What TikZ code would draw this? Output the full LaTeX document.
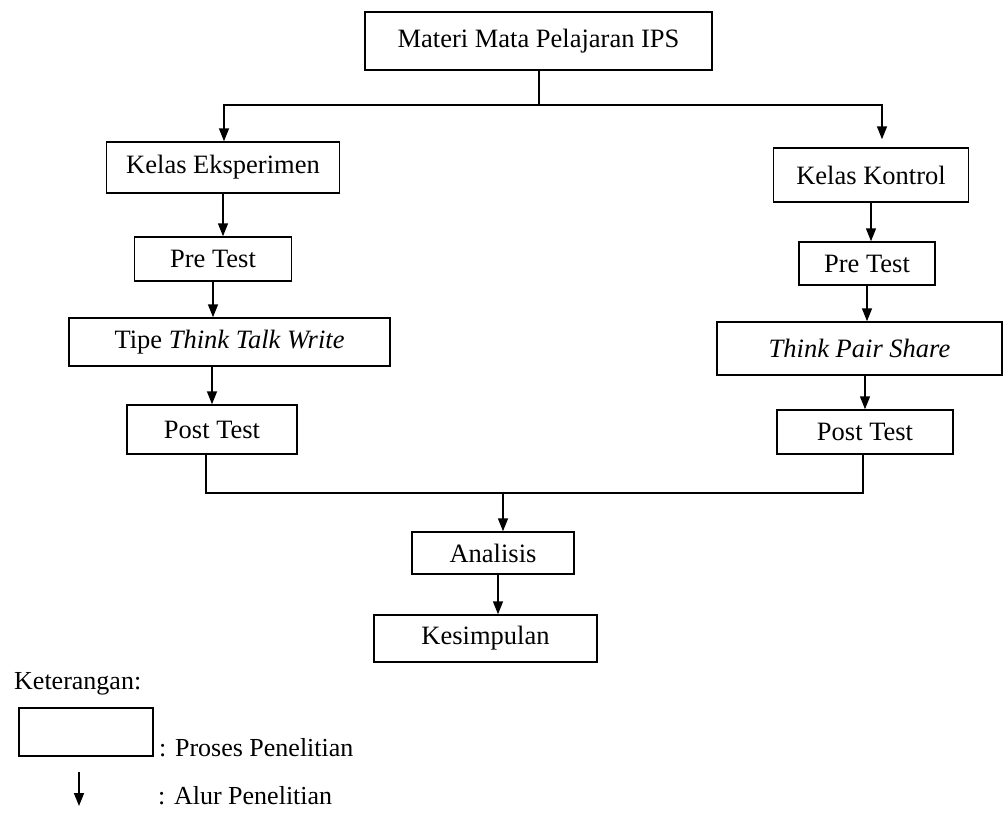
\documentclass[tikz,border=0pt]{standalone}
\usepackage{fontspec}
\setmainfont{Liberation Serif}
\usetikzlibrary{arrows.meta,calc}
\tikzset{
  box/.style={draw, line width=1.5pt, inner sep=0pt, align=center, font=\fontsize{26.5}{30}\selectfont},
  conn/.style={line width=1.6pt},
  arr/.style={line width=1.6pt, -{Triangle[length=13pt,width=10pt]}},
  lbl/.style={inner sep=0pt, anchor=west, font=\fontsize{26}{30}\selectfont}
}
\begin{document}
\begin{tikzpicture}[x=1pt,y=-1pt]
\useasboundingbox (0,0) rectangle (1008,817);
% boxes
\node[box, minimum width=347pt, minimum height=58pt] (materi) at (538.5,41) {Materi Mata Pelajaran IPS};
\node[box, minimum width=233pt, minimum height=51pt] (eks) at (223,167.5) {Kelas Eksperimen};
\node[box, minimum width=195pt, minimum height=54pt] (kon) at (871,175) {Kelas Kontrol};
\node[box, minimum width=157pt, minimum height=44pt] (pre1) at (213,259) {Pre Test};
\node[box, minimum width=136pt, minimum height=43pt] (pre2) at (867,263.5) {Pre Test};
\node[box, minimum width=321pt, minimum height=48pt] (ttw) at (229.5,342) {Tipe \textit{Think Talk Write}};
\node[box, minimum width=285pt, minimum height=53pt] (tps) at (859.5,348.5) {\textit{Think Pair Share}};
\node[box, minimum width=170pt, minimum height=49pt] (post1) at (212,429.5) {Post Test};
\node[box, minimum width=176pt, minimum height=44pt] (post2) at (865,432) {Post Test};
\node[box, minimum width=162pt, minimum height=42pt] (ana) at (493,553) {Analisis};
\node[box, minimum width=223pt, minimum height=47pt] (kes) at (485.5,638.5) {Kesimpulan};
% connectors
\coordinate (split) at (539,105);
\draw[conn] (materi.south -| split) -- (split);
\draw[arr] (split) -| ([xshift=1pt]eks.north);
\draw[arr] (split) -| ([xshift=11pt,yshift=8pt]kon.north);
\draw[arr] (eks.south) -- (eks.south |- pre1.north);
\draw[arr] (pre1.south) -- (pre1.south |- ttw.north);
\draw[arr] (ttw.south -| post1.north) -- (post1.north);
\draw[arr] (kon.south) -- (kon.south |- pre2.north);
\draw[arr] (pre2.south) -- (pre2.south |- tps.north);
\draw[arr] (tps.south -| post2.north) -- (post2.north);
\coordinate (join) at (503,493);
\draw[conn] ([xshift=-6pt]post1.south) |- (join) -| ([xshift=-2pt]post2.south);
\draw[arr] (join) -- (join |- ana.north);
\draw[arr] ([xshift=5pt]ana.south) -- ([xshift=5pt]ana.south |- kes.north);
% legend
\node[lbl] (ket) at (14,684) {Keterangan:};
\node[box, minimum width=134pt, minimum height=48pt] (legbox) at (86,732) {};
\node[lbl] (legproc) at (159,748) {: Proses Penelitian};
\coordinate (la1) at (79,772);
\coordinate (la2) at (79,806);
\draw[arr] (la1) -- (la2);
\node[lbl] (legflow) at (158,796) {: Alur Penelitian};
\end{tikzpicture}
\end{document}
